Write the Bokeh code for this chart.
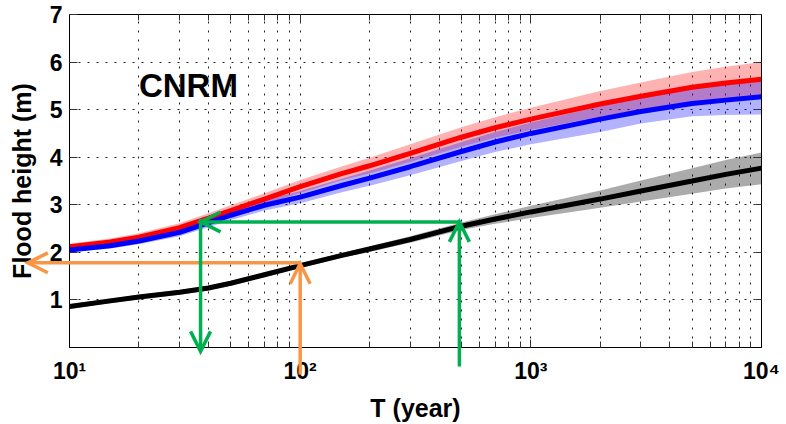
from bokeh.plotting import figure
from bokeh.models import (Range1d, FixedTicker, LogAxis, LinearAxis,
                          Label, CustomJSTickFormatter)
from bokeh.embed import file_html
from bokeh.resources import INLINE

# ---------------- data ----------------
T = [10, 15, 20, 30, 40, 50, 70, 100, 150, 200, 300, 500, 700, 1000, 2000, 3000, 5000, 7000, 10000]

black = [0.86, 0.98, 1.06, 1.16, 1.25, 1.35, 1.53, 1.72, 1.93, 2.07, 2.27, 2.55, 2.70, 2.85, 3.12, 3.29, 3.50, 3.64, 3.77]
black_lo = [0.81, 0.93, 1.01, 1.11, 1.20, 1.30, 1.48, 1.67, 1.88, 2.01, 2.20, 2.47, 2.60, 2.72, 2.94, 3.07, 3.23, 3.34, 3.43]
black_hi = [0.91, 1.03, 1.11, 1.21, 1.30, 1.40, 1.58, 1.77, 1.98, 2.13, 2.34, 2.63, 2.80, 2.98, 3.30, 3.51, 3.77, 3.94, 4.10]

red = [2.12, 2.22, 2.32, 2.52, 2.72, 2.88, 3.12, 3.38, 3.65, 3.82, 4.08, 4.42, 4.62, 4.80, 5.12, 5.28, 5.47, 5.56, 5.64]
red_lo = [2.07, 2.16, 2.25, 2.44, 2.63, 2.78, 3.01, 3.25, 3.51, 3.66, 3.90, 4.22, 4.41, 4.57, 4.85, 4.99, 5.15, 5.22, 5.28]
red_hi = [2.18, 2.29, 2.40, 2.61, 2.82, 2.99, 3.24, 3.52, 3.80, 3.99, 4.27, 4.63, 4.84, 5.04, 5.39, 5.57, 5.79, 5.90, 6.00]

blue = [2.05, 2.14, 2.24, 2.42, 2.62, 2.78, 2.99, 3.16, 3.40, 3.56, 3.80, 4.12, 4.32, 4.50, 4.80, 4.96, 5.13, 5.20, 5.27]
blue_lo = [2.00, 2.08, 2.17, 2.34, 2.53, 2.68, 2.88, 3.03, 3.26, 3.40, 3.62, 3.92, 4.11, 4.27, 4.53, 4.71, 4.86, 4.89, 4.90]
blue_hi = [2.10, 2.20, 2.31, 2.50, 2.71, 2.88, 3.10, 3.29, 3.54, 3.72, 3.98, 4.32, 4.53, 4.73, 5.07, 5.25, 5.45, 5.54, 5.63]

# arrows: (x_start, y_start, x_end, y_end); head at the end
orange_arrows = [(100, -0.57, 100, 1.76), (100, 1.78, 6.6, 1.78)]
green_arrows = [(490, -0.40, 490, 2.64), (490, 2.64, 37, 2.64), (37, 2.70, 37, -0.08)]

x_major = [10, 100, 1000, 10000]
x_minor = [20, 30, 40, 50, 60, 70, 80, 90,
           200, 300, 400, 500, 600, 700, 800, 900,
           2000, 3000, 4000, 5000, 6000, 7000, 8000, 9000]
x_labels = {10: "10¹", 100: "10²", 1000: "10³", 10000: "10⁴"}
y_major = [1, 2, 3, 4, 5, 6, 7]

model_name = "CNRM"
model_pos = (20, 5.5)

# ---------------- figure ----------------
FONT = "Liberation Sans"
X0, X1, Y0, Y1 = 10, 10000, 0, 7
FRAME_W, FRAME_H = 692, 334

p = figure(width=786, height=424, x_axis_type="log",
           x_range=Range1d(X0, X1), y_range=Range1d(Y0, Y1),
           output_backend="svg", toolbar_location=None,
           min_border_left=69, min_border_right=25, min_border_top=14, min_border_bottom=76)
p.outline_line_color = "black"
p.outline_line_width = 1
p.background_fill_color = "white"
p.border_fill_color = "white"

xt = FixedTicker(ticks=x_major, minor_ticks=x_minor)
yt = FixedTicker(ticks=y_major)

xa = p.xaxis[0]
xa.ticker = xt
xa.major_label_overrides = x_labels
xa.axis_label = "T (year)"
ya = p.yaxis[0]
ya.ticker = yt
ya.axis_label = "Flood height (m)"

for ax in (xa, ya):
    ax.major_label_text_font = FONT
    ax.major_label_text_font_style = "bold"
    ax.major_label_text_font_size = "23px"
    ax.major_label_text_color = "black"
    ax.axis_label_text_font = FONT
    ax.axis_label_text_font_style = "bold"
    ax.axis_label_text_font_size = "25px"
    ax.axis_label_text_color = "black"
    ax.major_tick_in = 8
    ax.major_tick_out = 0
    ax.minor_tick_in = 6
    ax.minor_tick_out = 0
    ax.axis_line_color = "black"
    ax.major_tick_line_color = "#333333"
    ax.minor_tick_line_color = "#333333"
xa.major_label_standoff = 10
xa.axis_label_standoff = 7
ya.major_label_standoff = 7
ya.axis_label_standoff = 11
ya.minor_tick_line_color = None

empty = CustomJSTickFormatter(code="return ''")
top = LogAxis(ticker=xt, formatter=empty, major_tick_in=8, major_tick_out=0,
              minor_tick_in=6, minor_tick_out=0, major_label_standoff=0,
              major_tick_line_color="#333333", minor_tick_line_color="#333333")
right = LinearAxis(ticker=yt, formatter=empty, major_tick_in=6, major_tick_out=0,
                   minor_tick_line_color=None, major_label_standoff=0,
                   major_tick_line_color="#333333")
p.add_layout(top, "above")
p.add_layout(right, "right")

for g in (p.xgrid[0], p.ygrid[0]):
    g.grid_line_color = "#222222"
    g.grid_line_dash = "2 7"
    g.grid_line_width = 1
p.xgrid[0].ticker = xt
p.ygrid[0].ticker = yt
p.xgrid[0].minor_grid_line_color = "#222222"
p.xgrid[0].minor_grid_line_dash = "2 7"

# bands
p.varea(x=T, y1=red_lo, y2=red_hi, fill_color="red", fill_alpha=0.3)
p.varea(x=T, y1=blue_lo, y2=blue_hi, fill_color="blue", fill_alpha=0.3)
p.varea(x=T, y1=black_lo, y2=black_hi, fill_color="black", fill_alpha=0.33)
# lines
p.line(T, red, line_color="red", line_width=5)
p.line(T, blue, line_color="blue", line_width=5)
p.line(T, black, line_color="black", line_width=5)

# arrows (overlay level so they may leave the frame)
HEAD_LEN, HEAD_HALF = 20, 10  # px
dec_per_px = 3.0 / FRAME_W
val_per_px = (Y1 - Y0) / FRAME_H


def shift(x, y, dx_px, dy_px):
    return x * 10 ** (dx_px * dec_per_px), y + dy_px * val_per_px


def head(xs, ys, xe, ye):
    if xe == xs:  # vertical
        sgn = 1 if ye > ys else -1
        a = shift(xe, ye, -HEAD_HALF, -sgn * HEAD_LEN)
        b = shift(xe, ye, HEAD_HALF, -sgn * HEAD_LEN)
    else:
        sgn = 1 if xe > xs else -1
        a = shift(xe, ye, -sgn * HEAD_LEN, -HEAD_HALF)
        b = shift(xe, ye, -sgn * HEAD_LEN, HEAD_HALF)
    return [a[0], xe, b[0]], [a[1], ye, b[1]]


for color, arrows in (("#F79646", orange_arrows), ("#00B050", green_arrows)):
    sx0 = [a[0] for a in arrows]
    sy0 = [a[1] for a in arrows]
    sx1 = [a[2] for a in arrows]
    sy1 = [a[3] for a in arrows]
    p.segment(x0=sx0, y0=sy0, x1=sx1, y1=sy1, line_color=color, line_width=3.5,
              level="overlay")
    heads = [head(*a) for a in arrows]
    p.multi_line(xs=[h[0] for h in heads], ys=[h[1] for h in heads],
                 line_color=color, line_width=3.5, line_join="miter", level="overlay")

p.add_layout(Label(x=model_pos[0], y=model_pos[1], text=model_name,
                   text_font=FONT, text_font_style="bold", text_font_size="33px",
                   text_color="black", text_baseline="alphabetic"))

open("out.html", "w").write(file_html(p, INLINE))
